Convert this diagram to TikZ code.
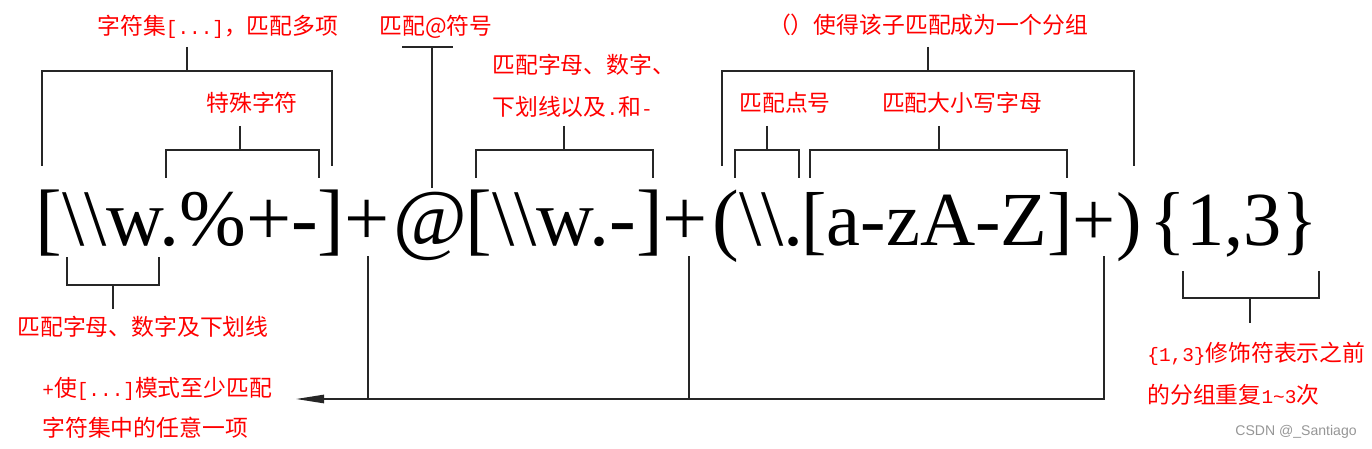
\documentclass[tikz,border=0pt]{standalone}
\usepackage{fontspec}
\setmainfont{Liberation Serif}
\newfontfamily\cjk{Noto Sans CJK SC}
\newfontfamily\hwf{Liberation Mono}[Scale=0.85]
\newfontfamily\wmfont{Liberation Sans}
\usetikzlibrary{arrows.meta}
\definecolor{lab}{RGB}{255,0,0}
\definecolor{wm}{RGB}{150,150,150}
\newcommand{\bs}{\textbackslash}
\newcommand{\hw}[1]{{\hwf #1}}
\begin{document}
\begin{tikzpicture}[x=0.02cm,y=-0.02cm,
  lbl/.style={text=lab, font=\cjk\fontsize{13}{24}\selectfont, inner sep=0pt, align=left},
  rxs/.style={anchor=base west, inner sep=0pt, font=\fontsize{45.6}{50}\selectfont},
  rxn/.style={anchor=base west, inner sep=0pt, font=\fontsize{43.5}{50}\selectfont},
  brk/.style={draw=black!85, line width=0.8pt},
]
\useasboundingbox (0,0) rectangle (1372,449);
% main regex, in pieces
\node[rxs] (rxa) at (35,246) {[\bs\bs w.\%+-]+};
\node[rxs, anchor=base] (at) at (430,246) {@};
\node[rxs] (rxb) at (465,246) {[\bs\bs w.-]+};
\node[rxs] (rxc) at (712,246) {(\bs\bs.};
\node[rxn] (rxe) at (801,246) {[a-zA-Z]+)};
\node[rxn] (rxd) at (1149,246) {\{1,3\}};
% labels
\node[lbl, anchor=west] (L1) at (97,27) {字符集\hw{[...]}，匹配多项};
\node[lbl] (L2) at (252,103) {特殊字符};
\node[lbl] (L3) at (436,27) {匹配@符号};
\node[lbl, anchor=west] (L4) at (492,86) {匹配字母、数字、\\下划线以及\hw{.}和\hw{-}};
\node[lbl] (L5) at (928,25) {（）使得该子匹配成为一个分组};
\node[lbl] (L6) at (785,103) {匹配点号};
\node[lbl] (L7) at (962,103) {匹配大小写字母};
\node[lbl] (B1) at (143,327) {匹配字母、数字及下划线};
\node[lbl, anchor=west, font=\cjk\fontsize{13}{23}\selectfont] (B2) at (42,408) {\hw{+}使\hw{[...]}模式至少匹配\\字符集中的任意一项};
\node[lbl, anchor=west] (B3) at (1147,374) {\hw{\{1,3\}}修饰符表示之前\\的分组重复\hw{1\textasciitilde3}次};
\node[text=wm, font=\wmfont\fontsize{8}{10}\selectfont, inner sep=0pt] (wm) at (1296,432) {CSDN @\_Santiago};
% top brackets
\draw[brk] (42,166) |- (332,71) -- (332,166);
\draw[brk] (187,47) -- (187,71);
\draw[brk] (166,178) |- (319,150) -- (319,178);
\draw[brk] (240,126) -- (240,150);
\draw[brk] (402,47) -- (453,47);
\draw[brk] (432,47) -- (432,188);
\draw[brk] (476,178) |- (653,150) -- (653,178);
\draw[brk] (564,126) -- (564,150);
\draw[brk] (722,166) |- (1134,71) -- (1134,166);
\draw[brk] (928,47) -- (928,71);
\draw[brk] (735,178) |- (799,150) -- (799,178);
\draw[brk] (767,126) -- (767,150);
\draw[brk] (810,178) |- (1067,150) -- (1067,178);
\draw[brk] (939,126) -- (939,150);
% bottom brackets
\draw[brk] (67,257) |- (159,285) -- (159,257);
\draw[brk] (113,285) -- (113,309);
\draw[brk] (1183,271) |- (1319,298) -- (1319,271);
\draw[brk] (1250,298) -- (1250,323);
% arrow
\draw[brk] (368,256) -- (368,399);
\draw[brk] (689,256) -- (689,399);
\draw[brk, -{Triangle[length=16pt,width=4.8pt]}] (1104,256) -- (1104,399) -- (296,399);
\end{tikzpicture}
\end{document}
